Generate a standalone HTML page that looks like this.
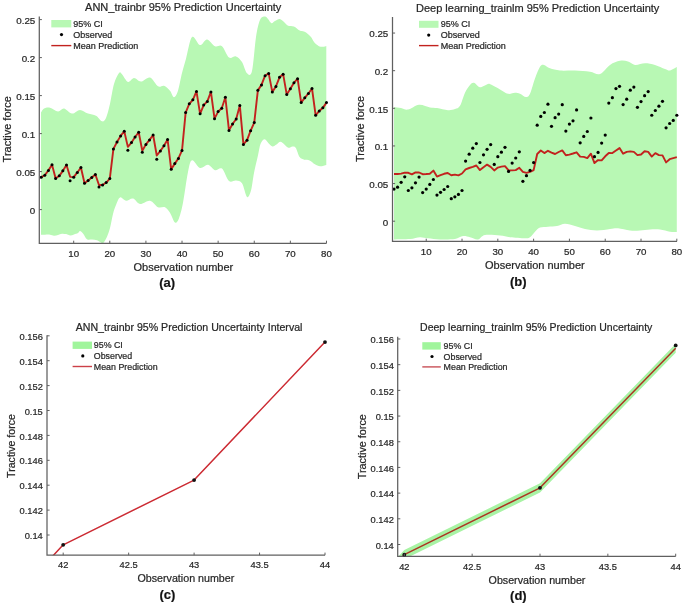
<!DOCTYPE html>
<html><head><meta charset="utf-8"><title>Prediction Uncertainty</title>
<style>html,body{margin:0;padding:0;background:#fff;} body{width:685px;height:604px;overflow:hidden;font-family:"Liberation Sans",sans-serif;} svg{display:block;filter:blur(0.35px);} text{stroke:#2a2a2a;stroke-width:0.22px;}</style>
</head><body>
<svg width="685" height="604" viewBox="0 0 685 604" font-family="Liberation Sans, sans-serif">
<rect width="685" height="604" fill="#fff"/>
<path d="M41.00,112.60 C41.50,111.93 42.50,109.42 44.00,108.60 C45.50,107.78 47.67,107.22 50.00,107.70 C52.33,108.18 55.67,111.35 58.00,111.50 C60.33,111.65 61.67,108.25 64.00,108.60 C66.33,108.95 69.33,113.38 72.00,113.60 C74.67,113.82 77.33,109.90 80.00,109.90 C82.67,109.90 85.33,112.62 88.00,113.60 C90.67,114.58 93.67,114.52 96.00,115.80 C98.33,117.08 100.33,120.93 102.00,121.30 C103.67,121.67 104.67,120.92 106.00,118.00 C107.33,115.08 108.67,109.45 110.00,103.80 C111.33,98.15 112.50,89.22 114.00,84.10 C115.50,78.98 117.67,74.75 119.00,73.10 C120.33,71.45 120.50,72.73 122.00,74.20 C123.50,75.67 126.00,81.27 128.00,81.90 C130.00,82.53 131.83,78.07 134.00,78.00 C136.17,77.93 138.33,81.58 141.00,81.50 C143.67,81.42 147.17,76.70 150.00,77.50 C152.83,78.30 155.67,84.92 158.00,86.30 C160.33,87.68 162.00,85.07 164.00,85.80 C166.00,86.53 168.33,88.80 170.00,90.70 C171.67,92.60 172.67,97.20 174.00,97.20 C175.33,97.20 176.67,94.72 178.00,90.70 C179.33,86.68 180.67,78.43 182.00,73.10 C183.33,67.77 184.33,64.70 186.00,58.70 C187.67,52.70 189.67,39.37 192.00,37.10 C194.33,34.83 197.50,44.72 200.00,45.10 C202.50,45.48 204.50,39.22 207.00,39.40 C209.50,39.58 212.50,45.07 215.00,46.20 C217.50,47.33 219.67,44.32 222.00,46.20 C224.33,48.08 226.67,55.80 229.00,57.50 C231.33,59.20 233.83,55.65 236.00,56.40 C238.17,57.15 240.17,59.18 242.00,62.00 C243.83,64.82 245.33,71.78 247.00,73.30 C248.67,74.82 250.50,77.13 252.00,71.10 C253.50,65.07 254.67,45.62 256.00,37.10 C257.33,28.58 258.52,23.42 260.00,20.00 C261.48,16.58 263.57,16.77 264.90,16.60 C266.23,16.43 266.90,17.90 268.00,19.00 C269.10,20.10 270.33,22.87 271.50,23.20 C272.67,23.53 273.62,21.70 275.00,21.00 C276.38,20.30 278.30,18.83 279.80,19.00 C281.30,19.17 282.62,20.88 284.00,22.00 C285.38,23.12 286.45,24.95 288.10,25.70 C289.75,26.45 291.97,25.68 293.90,26.50 C295.83,27.32 298.02,29.77 299.70,30.60 C301.38,31.43 302.63,30.95 304.00,31.50 C305.37,32.05 306.73,32.98 307.90,33.90 C309.07,34.82 310.03,35.75 311.00,37.00 C311.97,38.25 312.87,40.23 313.70,41.40 C314.53,42.57 315.03,43.17 316.00,44.00 C316.97,44.83 318.33,45.93 319.50,46.40 C320.67,46.87 321.87,46.87 323.00,46.80 C324.13,46.73 325.75,46.13 326.30,46.00 L326.30,165.00 C325.27,165.22 322.00,166.42 320.10,166.30 C318.20,166.18 316.65,165.28 314.90,164.30 C313.15,163.32 311.37,161.17 309.60,160.40 C307.83,159.63 305.97,160.25 304.30,159.70 C302.63,159.15 301.03,159.08 299.60,157.10 C298.17,155.12 296.90,149.57 295.70,147.80 C294.50,146.03 293.62,146.50 292.40,146.50 C291.18,146.50 289.73,148.13 288.40,147.80 C287.07,147.47 285.73,145.50 284.40,144.50 C283.07,143.50 281.72,141.80 280.40,141.80 C279.08,141.80 277.82,143.72 276.50,144.50 C275.18,145.28 273.83,146.72 272.50,146.50 C271.17,146.28 269.82,144.42 268.50,143.20 C267.18,141.98 265.92,139.10 264.60,139.20 C263.28,139.30 261.72,141.05 260.60,143.80 C259.48,146.55 259.00,150.85 257.90,155.70 C256.80,160.55 255.15,167.10 254.00,172.90 C252.85,178.70 252.17,186.50 251.00,190.50 C249.83,194.50 248.50,198.10 247.00,196.90 C245.50,195.70 243.83,186.02 242.00,183.30 C240.17,180.58 238.17,180.97 236.00,180.60 C233.83,180.23 231.33,183.10 229.00,181.10 C226.67,179.10 224.33,170.42 222.00,168.60 C219.67,166.78 217.33,170.83 215.00,170.20 C212.67,169.57 210.50,165.17 208.00,164.80 C205.50,164.43 202.67,168.75 200.00,168.00 C197.33,167.25 194.00,159.63 192.00,160.30 C190.00,160.97 189.50,164.92 188.00,172.00 C186.50,179.08 184.50,195.10 183.00,202.80 C181.50,210.50 180.33,214.90 179.00,218.20 C177.67,221.50 176.50,223.52 175.00,222.60 C173.50,221.68 171.67,215.27 170.00,212.70 C168.33,210.13 167.00,208.12 165.00,207.20 C163.00,206.28 160.50,208.28 158.00,207.20 C155.50,206.12 153.00,201.25 150.00,200.70 C147.00,200.15 142.83,204.27 140.00,203.90 C137.17,203.53 135.33,199.03 133.00,198.50 C130.67,197.97 128.17,200.88 126.00,200.70 C123.83,200.52 121.67,196.68 120.00,197.40 C118.33,198.12 117.17,202.23 116.00,205.00 C114.83,207.77 114.00,210.15 113.00,214.00 C112.00,217.85 111.00,224.32 110.00,228.10 C109.00,231.88 108.17,234.17 107.00,236.70 C105.83,239.23 104.00,242.32 103.00,243.30 C102.00,244.28 102.00,243.10 101.00,242.60 C100.00,242.10 98.50,240.80 97.00,240.30 C95.50,239.80 93.67,239.77 92.00,239.60 C90.33,239.43 88.50,240.33 87.00,239.30 C85.50,238.27 84.17,234.78 83.00,233.40 C81.83,232.02 80.83,231.05 80.00,231.00 C79.17,230.95 79.00,232.53 78.00,233.10 C77.00,233.67 75.33,234.02 74.00,234.40 C72.67,234.78 71.33,235.45 70.00,235.40 C68.67,235.35 67.33,234.38 66.00,234.10 C64.67,233.82 63.33,233.55 62.00,233.70 C60.67,233.85 59.33,234.67 58.00,235.00 C56.67,235.33 55.33,235.75 54.00,235.70 C52.67,235.65 51.50,234.87 50.00,234.70 C48.50,234.53 46.50,234.70 45.00,234.70 C43.50,234.70 41.67,234.70 41.00,234.70 Z" fill="#b8f8b4"/>
<polyline points="41.20,177.15 44.81,175.25 48.42,170.38 52.03,164.84 55.65,178.59 59.26,175.86 62.87,170.84 66.48,165.06 70.09,176.84 73.70,177.15 77.31,172.44 80.92,167.50 84.53,183.23 88.14,180.42 91.75,177.60 95.37,174.56 98.98,184.98 102.59,184.98 106.20,182.54 109.81,178.59 113.42,148.88 117.03,141.96 120.64,135.88 124.25,131.24 127.87,146.90 131.48,142.57 135.09,137.02 138.70,132.23 142.31,150.70 145.92,144.39 149.53,139.91 153.14,135.04 156.75,155.49 160.36,150.93 163.98,145.76 167.59,139.53 171.20,169.32 174.81,163.62 178.42,158.38 182.03,150.40 185.64,112.62 189.25,103.81 192.86,99.86 196.47,91.42 200.09,113.84 203.70,105.10 207.31,101.38 210.92,91.95 214.53,118.63 218.14,111.56 221.75,108.22 225.36,97.27 228.97,130.41 232.58,123.95 236.19,119.01 239.81,105.40 243.42,144.39 247.03,140.14 250.64,130.71 254.25,122.58 257.86,90.36 261.47,84.88 265.08,75.69 268.69,73.41 272.31,91.88 275.92,86.40 279.53,77.28 283.14,74.17 286.75,94.61 290.36,88.76 293.97,82.83 297.58,78.73 301.19,102.59 304.80,97.80 308.42,93.47 312.03,88.53 315.64,115.28 319.25,110.95 322.86,107.84 326.47,102.59" fill="none" stroke="#c2221e" stroke-width="1.9" stroke-linejoin="round"/>
<circle cx="41.20" cy="177.15" r="1.5" fill="#000"/>
<circle cx="44.81" cy="175.25" r="1.5" fill="#000"/>
<circle cx="48.42" cy="170.38" r="1.5" fill="#000"/>
<circle cx="52.03" cy="164.84" r="1.5" fill="#000"/>
<circle cx="55.65" cy="178.59" r="1.5" fill="#000"/>
<circle cx="59.26" cy="175.86" r="1.5" fill="#000"/>
<circle cx="62.87" cy="170.84" r="1.5" fill="#000"/>
<circle cx="66.48" cy="165.06" r="1.5" fill="#000"/>
<circle cx="70.09" cy="180.64" r="1.5" fill="#000"/>
<circle cx="73.70" cy="177.15" r="1.5" fill="#000"/>
<circle cx="77.31" cy="172.44" r="1.5" fill="#000"/>
<circle cx="80.92" cy="167.50" r="1.5" fill="#000"/>
<circle cx="84.53" cy="183.23" r="1.5" fill="#000"/>
<circle cx="88.14" cy="180.42" r="1.5" fill="#000"/>
<circle cx="91.75" cy="177.60" r="1.5" fill="#000"/>
<circle cx="95.37" cy="174.56" r="1.5" fill="#000"/>
<circle cx="98.98" cy="186.88" r="1.5" fill="#000"/>
<circle cx="102.59" cy="184.98" r="1.5" fill="#000"/>
<circle cx="106.20" cy="182.54" r="1.5" fill="#000"/>
<circle cx="109.81" cy="178.59" r="1.5" fill="#000"/>
<circle cx="113.42" cy="148.88" r="1.5" fill="#000"/>
<circle cx="117.03" cy="141.96" r="1.5" fill="#000"/>
<circle cx="120.64" cy="135.88" r="1.5" fill="#000"/>
<circle cx="124.25" cy="131.24" r="1.5" fill="#000"/>
<circle cx="127.87" cy="150.32" r="1.5" fill="#000"/>
<circle cx="131.48" cy="142.57" r="1.5" fill="#000"/>
<circle cx="135.09" cy="137.02" r="1.5" fill="#000"/>
<circle cx="138.70" cy="132.23" r="1.5" fill="#000"/>
<circle cx="142.31" cy="152.22" r="1.5" fill="#000"/>
<circle cx="145.92" cy="144.39" r="1.5" fill="#000"/>
<circle cx="149.53" cy="139.91" r="1.5" fill="#000"/>
<circle cx="153.14" cy="135.04" r="1.5" fill="#000"/>
<circle cx="156.75" cy="159.29" r="1.5" fill="#000"/>
<circle cx="160.36" cy="150.93" r="1.5" fill="#000"/>
<circle cx="163.98" cy="145.76" r="1.5" fill="#000"/>
<circle cx="167.59" cy="139.53" r="1.5" fill="#000"/>
<circle cx="171.20" cy="169.32" r="1.5" fill="#000"/>
<circle cx="174.81" cy="163.62" r="1.5" fill="#000"/>
<circle cx="178.42" cy="158.38" r="1.5" fill="#000"/>
<circle cx="182.03" cy="150.40" r="1.5" fill="#000"/>
<circle cx="185.64" cy="112.62" r="1.5" fill="#000"/>
<circle cx="189.25" cy="103.81" r="1.5" fill="#000"/>
<circle cx="192.86" cy="99.86" r="1.5" fill="#000"/>
<circle cx="196.47" cy="91.42" r="1.5" fill="#000"/>
<circle cx="200.09" cy="113.84" r="1.5" fill="#000"/>
<circle cx="203.70" cy="105.10" r="1.5" fill="#000"/>
<circle cx="207.31" cy="101.38" r="1.5" fill="#000"/>
<circle cx="210.92" cy="91.95" r="1.5" fill="#000"/>
<circle cx="214.53" cy="118.63" r="1.5" fill="#000"/>
<circle cx="218.14" cy="111.56" r="1.5" fill="#000"/>
<circle cx="221.75" cy="108.22" r="1.5" fill="#000"/>
<circle cx="225.36" cy="97.27" r="1.5" fill="#000"/>
<circle cx="228.97" cy="130.41" r="1.5" fill="#000"/>
<circle cx="232.58" cy="123.95" r="1.5" fill="#000"/>
<circle cx="236.19" cy="119.01" r="1.5" fill="#000"/>
<circle cx="239.81" cy="105.40" r="1.5" fill="#000"/>
<circle cx="243.42" cy="144.39" r="1.5" fill="#000"/>
<circle cx="247.03" cy="140.14" r="1.5" fill="#000"/>
<circle cx="250.64" cy="130.71" r="1.5" fill="#000"/>
<circle cx="254.25" cy="122.58" r="1.5" fill="#000"/>
<circle cx="257.86" cy="90.36" r="1.5" fill="#000"/>
<circle cx="261.47" cy="84.88" r="1.5" fill="#000"/>
<circle cx="265.08" cy="75.69" r="1.5" fill="#000"/>
<circle cx="268.69" cy="73.41" r="1.5" fill="#000"/>
<circle cx="272.31" cy="91.88" r="1.5" fill="#000"/>
<circle cx="275.92" cy="86.40" r="1.5" fill="#000"/>
<circle cx="279.53" cy="77.28" r="1.5" fill="#000"/>
<circle cx="283.14" cy="74.17" r="1.5" fill="#000"/>
<circle cx="286.75" cy="94.61" r="1.5" fill="#000"/>
<circle cx="290.36" cy="88.76" r="1.5" fill="#000"/>
<circle cx="293.97" cy="82.83" r="1.5" fill="#000"/>
<circle cx="297.58" cy="78.73" r="1.5" fill="#000"/>
<circle cx="301.19" cy="102.59" r="1.5" fill="#000"/>
<circle cx="304.80" cy="97.80" r="1.5" fill="#000"/>
<circle cx="308.42" cy="93.47" r="1.5" fill="#000"/>
<circle cx="312.03" cy="88.53" r="1.5" fill="#000"/>
<circle cx="315.64" cy="115.28" r="1.5" fill="#000"/>
<circle cx="319.25" cy="110.95" r="1.5" fill="#000"/>
<circle cx="322.86" cy="107.84" r="1.5" fill="#000"/>
<circle cx="326.47" cy="102.59" r="1.5" fill="#000"/>
<path d="M39.3,16.5 V243.3 H326.5" fill="none" stroke="#606060" stroke-width="1.25"/>
<line x1="39.3" y1="209.60" x2="41.9" y2="209.60" stroke="#606060" stroke-width="1"/>
<text x="35.3" y="213.93" font-size="9.8" text-anchor="end" fill="#262626">0</text>
<line x1="39.3" y1="171.60" x2="41.9" y2="171.60" stroke="#606060" stroke-width="1"/>
<text x="35.3" y="175.93" font-size="9.8" text-anchor="end" fill="#262626">0.05</text>
<line x1="39.3" y1="133.60" x2="41.9" y2="133.60" stroke="#606060" stroke-width="1"/>
<text x="35.3" y="137.93" font-size="9.8" text-anchor="end" fill="#262626">0.1</text>
<line x1="39.3" y1="95.60" x2="41.9" y2="95.60" stroke="#606060" stroke-width="1"/>
<text x="35.3" y="99.93" font-size="9.8" text-anchor="end" fill="#262626">0.15</text>
<line x1="39.3" y1="57.60" x2="41.9" y2="57.60" stroke="#606060" stroke-width="1"/>
<text x="35.3" y="61.93" font-size="9.8" text-anchor="end" fill="#262626">0.2</text>
<line x1="39.3" y1="19.60" x2="41.9" y2="19.60" stroke="#606060" stroke-width="1"/>
<text x="35.3" y="23.93" font-size="9.8" text-anchor="end" fill="#262626">0.25</text>
<line x1="73.70" y1="243.3" x2="73.70" y2="240.70000000000002" stroke="#606060" stroke-width="1"/>
<text x="73.70" y="257.00" font-size="9.7" text-anchor="middle" fill="#262626">10</text>
<line x1="109.81" y1="243.3" x2="109.81" y2="240.70000000000002" stroke="#606060" stroke-width="1"/>
<text x="109.81" y="257.00" font-size="9.7" text-anchor="middle" fill="#262626">20</text>
<line x1="145.92" y1="243.3" x2="145.92" y2="240.70000000000002" stroke="#606060" stroke-width="1"/>
<text x="145.92" y="257.00" font-size="9.7" text-anchor="middle" fill="#262626">30</text>
<line x1="182.03" y1="243.3" x2="182.03" y2="240.70000000000002" stroke="#606060" stroke-width="1"/>
<text x="182.03" y="257.00" font-size="9.7" text-anchor="middle" fill="#262626">40</text>
<line x1="218.14" y1="243.3" x2="218.14" y2="240.70000000000002" stroke="#606060" stroke-width="1"/>
<text x="218.14" y="257.00" font-size="9.7" text-anchor="middle" fill="#262626">50</text>
<line x1="254.25" y1="243.3" x2="254.25" y2="240.70000000000002" stroke="#606060" stroke-width="1"/>
<text x="254.25" y="257.00" font-size="9.7" text-anchor="middle" fill="#262626">60</text>
<line x1="290.36" y1="243.3" x2="290.36" y2="240.70000000000002" stroke="#606060" stroke-width="1"/>
<text x="290.36" y="257.00" font-size="9.7" text-anchor="middle" fill="#262626">70</text>
<line x1="326.47" y1="243.3" x2="326.47" y2="240.70000000000002" stroke="#606060" stroke-width="1"/>
<text x="326.47" y="257.00" font-size="9.7" text-anchor="middle" fill="#262626">80</text>
<rect x="51.3" y="20.0" width="20.0" height="7.399999999999999" fill="#b8f8b4"/>
<circle cx="61.5" cy="34.6" r="1.6" fill="#000"/>
<line x1="51.3" y1="45.6" x2="71.3" y2="45.6" stroke="#c2221e" stroke-width="1.4"/>
<text x="73.3" y="26.85" font-size="9" fill="#262626">95% CI</text>
<text x="73.3" y="37.75" font-size="9" fill="#262626">Observed</text>
<text x="73.3" y="48.75" font-size="9" fill="#262626">Mean Prediction</text>
<text x="183.2" y="11.2" font-size="11" text-anchor="middle" fill="#262626">ANN_trainbr 95% Prediction Uncertainty</text>
<text x="183.4" y="271" font-size="11" text-anchor="middle" fill="#262626">Observation number</text>
<text transform="translate(10.8,129.3) rotate(-90)" x="0" y="0" font-size="11" text-anchor="middle" fill="#262626">Tractive force</text>
<text x="167.2" y="287.2" font-size="13" font-weight="bold" text-anchor="middle" fill="#111">(a)</text>
<path d="M394.00,106.90 C395.17,107.08 398.67,107.55 401.00,108.00 C403.33,108.45 405.00,110.15 408.00,109.60 C411.00,109.05 415.33,105.07 419.00,104.70 C422.67,104.33 427.00,106.85 430.00,107.40 C433.00,107.95 434.00,107.53 437.00,108.00 C440.00,108.47 445.00,110.02 448.00,110.20 C451.00,110.38 453.00,109.83 455.00,109.10 C457.00,108.37 458.33,108.53 460.00,105.80 C461.67,103.07 463.33,96.17 465.00,92.70 C466.67,89.23 468.50,86.65 470.00,85.00 C471.50,83.35 472.33,82.43 474.00,82.80 C475.67,83.17 477.67,87.02 480.00,87.20 C482.33,87.38 486.17,84.33 488.00,83.90 C489.83,83.47 489.00,83.68 491.00,84.60 C493.00,85.52 497.17,87.87 500.00,89.40 C502.83,90.93 505.50,93.25 508.00,93.80 C510.50,94.35 513.00,92.70 515.00,92.70 C517.00,92.70 518.17,93.07 520.00,93.80 C521.83,94.53 524.33,97.10 526.00,97.10 C527.67,97.10 528.50,96.90 530.00,93.80 C531.50,90.70 533.33,83.02 535.00,78.50 C536.67,73.98 538.50,68.97 540.00,66.70 C541.50,64.43 542.33,64.63 544.00,64.90 C545.67,65.17 547.33,67.37 550.00,68.30 C552.67,69.23 555.83,70.13 560.00,70.50 C564.17,70.87 570.00,70.30 575.00,70.50 C580.00,70.70 585.83,71.13 590.00,71.70 C594.17,72.27 596.67,75.03 600.00,73.90 C603.33,72.77 606.67,67.08 610.00,64.90 C613.33,62.72 617.00,61.37 620.00,60.80 C623.00,60.23 625.50,60.82 628.00,61.50 C630.50,62.18 632.17,64.60 635.00,64.90 C637.83,65.20 641.67,63.30 645.00,63.30 C648.33,63.30 651.67,63.95 655.00,64.90 C658.33,65.85 662.50,68.07 665.00,69.00 C667.50,69.93 668.03,70.82 670.00,70.50 C671.97,70.18 675.67,67.67 676.80,67.10 L676.80,232.10 C675.67,232.03 672.80,232.15 670.00,231.70 C667.20,231.25 663.33,229.78 660.00,229.40 C656.67,229.02 653.33,229.22 650.00,229.40 C646.67,229.58 643.33,230.32 640.00,230.50 C636.67,230.68 633.67,230.87 630.00,230.50 C626.33,230.13 621.33,228.55 618.00,228.30 C614.67,228.05 613.50,228.63 610.00,229.00 C606.50,229.37 601.17,230.50 597.00,230.50 C592.83,230.50 588.67,229.75 585.00,229.00 C581.33,228.25 578.33,226.87 575.00,226.00 C571.67,225.13 568.00,223.80 565.00,223.80 C562.00,223.80 559.83,225.52 557.00,226.00 C554.17,226.48 550.83,226.43 548.00,226.70 C545.17,226.97 542.17,226.77 540.00,227.60 C537.83,228.43 536.67,230.10 535.00,231.70 C533.33,233.30 531.67,236.10 530.00,237.20 C528.33,238.30 528.33,238.30 525.00,238.30 C521.67,238.30 514.17,237.67 510.00,237.20 C505.83,236.73 504.17,235.87 500.00,235.50 C495.83,235.13 488.67,234.35 485.00,235.00 C481.33,235.65 480.50,239.03 478.00,239.40 C475.50,239.77 472.50,237.75 470.00,237.20 C467.50,236.65 465.50,235.80 463.00,236.10 C460.50,236.40 458.83,238.45 455.00,239.00 C451.17,239.55 444.50,239.52 440.00,239.40 C435.50,239.28 431.33,238.67 428.00,238.30 C424.67,237.93 423.00,237.08 420.00,237.20 C417.00,237.32 414.33,238.63 410.00,239.00 C405.67,239.37 396.67,239.33 394.00,239.40 Z" fill="#b8f8b4"/>
<polyline points="394.00,174.00 397.58,174.00 401.16,173.60 404.74,172.60 408.32,172.80 411.90,174.30 415.48,172.40 419.06,172.50 422.64,174.20 426.22,174.00 429.80,173.70 433.38,170.60 436.96,176.60 440.54,175.10 444.12,173.80 447.70,173.00 451.28,175.30 454.86,174.60 458.44,175.40 462.02,173.50 465.60,169.40 469.18,168.00 472.76,166.90 476.34,165.50 479.92,170.10 483.50,167.20 487.08,164.60 490.66,166.90 494.24,170.40 497.82,167.60 501.40,166.60 504.98,166.10 508.56,170.40 512.14,170.40 515.72,170.10 519.30,167.80 522.88,171.90 526.46,172.90 530.04,171.90 533.62,170.10 537.20,154.00 540.78,150.50 544.36,153.10 547.94,150.80 551.52,152.60 555.10,154.00 558.68,152.00 562.26,150.40 565.84,155.20 569.42,154.60 573.00,153.50 576.58,152.30 580.16,156.60 583.74,156.90 587.32,158.10 590.90,153.70 594.48,163.10 598.06,160.10 601.64,160.40 605.22,156.30 608.80,153.00 612.38,153.10 615.96,150.50 619.54,148.10 623.12,153.70 626.70,151.90 630.28,151.40 633.86,151.90 637.44,155.10 641.02,154.50 644.60,151.30 648.18,151.90 651.76,156.60 655.34,153.10 658.92,155.10 662.50,155.40 666.08,162.40 669.66,159.20 673.24,158.10 676.82,157.20" fill="none" stroke="#c2221e" stroke-width="1.9" stroke-linejoin="round"/>
<circle cx="394.00" cy="189.06" r="1.6" fill="#000"/>
<circle cx="397.58" cy="187.18" r="1.6" fill="#000"/>
<circle cx="401.16" cy="182.37" r="1.6" fill="#000"/>
<circle cx="404.74" cy="176.87" r="1.6" fill="#000"/>
<circle cx="408.32" cy="190.49" r="1.6" fill="#000"/>
<circle cx="411.90" cy="187.78" r="1.6" fill="#000"/>
<circle cx="415.48" cy="182.82" r="1.6" fill="#000"/>
<circle cx="419.06" cy="177.10" r="1.6" fill="#000"/>
<circle cx="422.64" cy="192.53" r="1.6" fill="#000"/>
<circle cx="426.22" cy="189.06" r="1.6" fill="#000"/>
<circle cx="429.80" cy="184.40" r="1.6" fill="#000"/>
<circle cx="433.38" cy="179.51" r="1.6" fill="#000"/>
<circle cx="436.96" cy="195.08" r="1.6" fill="#000"/>
<circle cx="440.54" cy="192.30" r="1.6" fill="#000"/>
<circle cx="444.12" cy="189.52" r="1.6" fill="#000"/>
<circle cx="447.70" cy="186.51" r="1.6" fill="#000"/>
<circle cx="451.28" cy="198.70" r="1.6" fill="#000"/>
<circle cx="454.86" cy="196.82" r="1.6" fill="#000"/>
<circle cx="458.44" cy="194.41" r="1.6" fill="#000"/>
<circle cx="462.02" cy="190.49" r="1.6" fill="#000"/>
<circle cx="465.60" cy="161.07" r="1.6" fill="#000"/>
<circle cx="469.18" cy="154.22" r="1.6" fill="#000"/>
<circle cx="472.76" cy="148.20" r="1.6" fill="#000"/>
<circle cx="476.34" cy="143.61" r="1.6" fill="#000"/>
<circle cx="479.92" cy="162.50" r="1.6" fill="#000"/>
<circle cx="483.50" cy="154.82" r="1.6" fill="#000"/>
<circle cx="487.08" cy="149.33" r="1.6" fill="#000"/>
<circle cx="490.66" cy="144.59" r="1.6" fill="#000"/>
<circle cx="494.24" cy="164.38" r="1.6" fill="#000"/>
<circle cx="497.82" cy="156.63" r="1.6" fill="#000"/>
<circle cx="501.40" cy="152.19" r="1.6" fill="#000"/>
<circle cx="504.98" cy="147.37" r="1.6" fill="#000"/>
<circle cx="508.56" cy="171.38" r="1.6" fill="#000"/>
<circle cx="512.14" cy="163.10" r="1.6" fill="#000"/>
<circle cx="515.72" cy="157.98" r="1.6" fill="#000"/>
<circle cx="519.30" cy="151.81" r="1.6" fill="#000"/>
<circle cx="522.88" cy="181.31" r="1.6" fill="#000"/>
<circle cx="526.46" cy="175.67" r="1.6" fill="#000"/>
<circle cx="530.04" cy="170.47" r="1.6" fill="#000"/>
<circle cx="533.62" cy="162.57" r="1.6" fill="#000"/>
<circle cx="537.20" cy="125.17" r="1.6" fill="#000"/>
<circle cx="540.78" cy="116.44" r="1.6" fill="#000"/>
<circle cx="544.36" cy="112.52" r="1.6" fill="#000"/>
<circle cx="547.94" cy="104.17" r="1.6" fill="#000"/>
<circle cx="551.52" cy="126.37" r="1.6" fill="#000"/>
<circle cx="555.10" cy="117.72" r="1.6" fill="#000"/>
<circle cx="558.68" cy="114.03" r="1.6" fill="#000"/>
<circle cx="562.26" cy="104.70" r="1.6" fill="#000"/>
<circle cx="565.84" cy="131.11" r="1.6" fill="#000"/>
<circle cx="569.42" cy="124.11" r="1.6" fill="#000"/>
<circle cx="573.00" cy="120.80" r="1.6" fill="#000"/>
<circle cx="576.58" cy="109.97" r="1.6" fill="#000"/>
<circle cx="580.16" cy="142.78" r="1.6" fill="#000"/>
<circle cx="583.74" cy="136.38" r="1.6" fill="#000"/>
<circle cx="587.32" cy="131.49" r="1.6" fill="#000"/>
<circle cx="590.90" cy="118.02" r="1.6" fill="#000"/>
<circle cx="594.48" cy="156.63" r="1.6" fill="#000"/>
<circle cx="598.06" cy="152.41" r="1.6" fill="#000"/>
<circle cx="601.64" cy="143.08" r="1.6" fill="#000"/>
<circle cx="605.22" cy="135.03" r="1.6" fill="#000"/>
<circle cx="608.80" cy="103.12" r="1.6" fill="#000"/>
<circle cx="612.38" cy="97.70" r="1.6" fill="#000"/>
<circle cx="615.96" cy="88.59" r="1.6" fill="#000"/>
<circle cx="619.54" cy="86.33" r="1.6" fill="#000"/>
<circle cx="623.12" cy="104.62" r="1.6" fill="#000"/>
<circle cx="626.70" cy="99.20" r="1.6" fill="#000"/>
<circle cx="630.28" cy="90.17" r="1.6" fill="#000"/>
<circle cx="633.86" cy="87.09" r="1.6" fill="#000"/>
<circle cx="637.44" cy="107.33" r="1.6" fill="#000"/>
<circle cx="641.02" cy="101.54" r="1.6" fill="#000"/>
<circle cx="644.60" cy="95.67" r="1.6" fill="#000"/>
<circle cx="648.18" cy="91.60" r="1.6" fill="#000"/>
<circle cx="651.76" cy="115.23" r="1.6" fill="#000"/>
<circle cx="655.34" cy="110.49" r="1.6" fill="#000"/>
<circle cx="658.92" cy="106.20" r="1.6" fill="#000"/>
<circle cx="662.50" cy="101.31" r="1.6" fill="#000"/>
<circle cx="666.08" cy="127.80" r="1.6" fill="#000"/>
<circle cx="669.66" cy="123.51" r="1.6" fill="#000"/>
<circle cx="673.24" cy="120.43" r="1.6" fill="#000"/>
<circle cx="676.82" cy="115.23" r="1.6" fill="#000"/>
<path d="M392.5,16.9 V241.3 H677" fill="none" stroke="#606060" stroke-width="1.25"/>
<line x1="392.5" y1="221.20" x2="395.1" y2="221.20" stroke="#606060" stroke-width="1"/>
<text x="388.3" y="225.53" font-size="9.8" text-anchor="end" fill="#262626">0</text>
<line x1="392.5" y1="183.57" x2="395.1" y2="183.57" stroke="#606060" stroke-width="1"/>
<text x="388.3" y="187.90" font-size="9.8" text-anchor="end" fill="#262626">0.05</text>
<line x1="392.5" y1="145.94" x2="395.1" y2="145.94" stroke="#606060" stroke-width="1"/>
<text x="388.3" y="150.27" font-size="9.8" text-anchor="end" fill="#262626">0.1</text>
<line x1="392.5" y1="108.31" x2="395.1" y2="108.31" stroke="#606060" stroke-width="1"/>
<text x="388.3" y="112.64" font-size="9.8" text-anchor="end" fill="#262626">0.15</text>
<line x1="392.5" y1="70.68" x2="395.1" y2="70.68" stroke="#606060" stroke-width="1"/>
<text x="388.3" y="75.01" font-size="9.8" text-anchor="end" fill="#262626">0.2</text>
<line x1="392.5" y1="33.05" x2="395.1" y2="33.05" stroke="#606060" stroke-width="1"/>
<text x="388.3" y="37.38" font-size="9.8" text-anchor="end" fill="#262626">0.25</text>
<line x1="426.22" y1="241.3" x2="426.22" y2="238.70000000000002" stroke="#606060" stroke-width="1"/>
<text x="426.22" y="255.40" font-size="9.7" text-anchor="middle" fill="#262626">10</text>
<line x1="462.02" y1="241.3" x2="462.02" y2="238.70000000000002" stroke="#606060" stroke-width="1"/>
<text x="462.02" y="255.40" font-size="9.7" text-anchor="middle" fill="#262626">20</text>
<line x1="497.82" y1="241.3" x2="497.82" y2="238.70000000000002" stroke="#606060" stroke-width="1"/>
<text x="497.82" y="255.40" font-size="9.7" text-anchor="middle" fill="#262626">30</text>
<line x1="533.62" y1="241.3" x2="533.62" y2="238.70000000000002" stroke="#606060" stroke-width="1"/>
<text x="533.62" y="255.40" font-size="9.7" text-anchor="middle" fill="#262626">40</text>
<line x1="569.42" y1="241.3" x2="569.42" y2="238.70000000000002" stroke="#606060" stroke-width="1"/>
<text x="569.42" y="255.40" font-size="9.7" text-anchor="middle" fill="#262626">50</text>
<line x1="605.22" y1="241.3" x2="605.22" y2="238.70000000000002" stroke="#606060" stroke-width="1"/>
<text x="605.22" y="255.40" font-size="9.7" text-anchor="middle" fill="#262626">60</text>
<line x1="641.02" y1="241.3" x2="641.02" y2="238.70000000000002" stroke="#606060" stroke-width="1"/>
<text x="641.02" y="255.40" font-size="9.7" text-anchor="middle" fill="#262626">70</text>
<line x1="676.82" y1="241.3" x2="676.82" y2="238.70000000000002" stroke="#606060" stroke-width="1"/>
<text x="676.82" y="255.40" font-size="9.7" text-anchor="middle" fill="#262626">80</text>
<rect x="419" y="20.8" width="19.5" height="7.0" fill="#b8f8b4"/>
<circle cx="428.7" cy="35.1" r="1.6" fill="#000"/>
<line x1="419" y1="45.6" x2="438.5" y2="45.6" stroke="#c2221e" stroke-width="1.4"/>
<text x="440.7" y="27.45" font-size="9" fill="#262626">95% CI</text>
<text x="440.7" y="38.25" font-size="9" fill="#262626">Observed</text>
<text x="440.7" y="48.75" font-size="9" fill="#262626">Mean Prediction</text>
<text x="537.7" y="12.3" font-size="11" text-anchor="middle" fill="#262626">Deep learning_trainlm 95% Prediction Uncertainty</text>
<text x="534.9" y="269" font-size="11" text-anchor="middle" fill="#262626">Observation number</text>
<text transform="translate(364,129) rotate(-90)" x="0" y="0" font-size="11" text-anchor="middle" fill="#262626">Tractive force</text>
<text x="518.2" y="285.7" font-size="13" font-weight="bold" text-anchor="middle" fill="#111">(b)</text>
<clipPath id="cclip"><rect x="47" y="330" width="290" height="225.2"/></clipPath>
<polyline clip-path="url(#cclip)" points="-67.70,685.64 63.20,544.84 194.10,480.10 325.00,342.03" fill="none" stroke="#cc2b33" stroke-width="1.5" stroke-linejoin="round"/>
<path d="M47,335.3 V555.2 H325" fill="none" stroke="#606060" stroke-width="1.25"/>
<circle cx="63.20" cy="544.84" r="1.9" fill="#111"/>
<circle cx="194.10" cy="480.10" r="1.9" fill="#111"/>
<circle cx="325.00" cy="342.03" r="1.9" fill="#111"/>
<line x1="47" y1="535.00" x2="49.6" y2="535.00" stroke="#606060" stroke-width="1"/>
<text x="42.8" y="539.15" font-size="9.3" text-anchor="end" fill="#262626">0.14</text>
<line x1="47" y1="510.10" x2="49.6" y2="510.10" stroke="#606060" stroke-width="1"/>
<text x="42.8" y="514.26" font-size="9.3" text-anchor="end" fill="#262626">0.142</text>
<line x1="47" y1="485.20" x2="49.6" y2="485.20" stroke="#606060" stroke-width="1"/>
<text x="42.8" y="489.36" font-size="9.3" text-anchor="end" fill="#262626">0.144</text>
<line x1="47" y1="460.30" x2="49.6" y2="460.30" stroke="#606060" stroke-width="1"/>
<text x="42.8" y="464.46" font-size="9.3" text-anchor="end" fill="#262626">0.146</text>
<line x1="47" y1="435.40" x2="49.6" y2="435.40" stroke="#606060" stroke-width="1"/>
<text x="42.8" y="439.56" font-size="9.3" text-anchor="end" fill="#262626">0.148</text>
<line x1="47" y1="410.50" x2="49.6" y2="410.50" stroke="#606060" stroke-width="1"/>
<text x="42.8" y="414.66" font-size="9.3" text-anchor="end" fill="#262626">0.15</text>
<line x1="47" y1="385.60" x2="49.6" y2="385.60" stroke="#606060" stroke-width="1"/>
<text x="42.8" y="389.76" font-size="9.3" text-anchor="end" fill="#262626">0.152</text>
<line x1="47" y1="360.70" x2="49.6" y2="360.70" stroke="#606060" stroke-width="1"/>
<text x="42.8" y="364.86" font-size="9.3" text-anchor="end" fill="#262626">0.154</text>
<line x1="47" y1="335.80" x2="49.6" y2="335.80" stroke="#606060" stroke-width="1"/>
<text x="42.8" y="339.96" font-size="9.3" text-anchor="end" fill="#262626">0.156</text>
<line x1="63.20" y1="555.2" x2="63.20" y2="552.6" stroke="#606060" stroke-width="1"/>
<text x="63.20" y="568.25" font-size="9.3" text-anchor="middle" fill="#262626">42</text>
<line x1="128.65" y1="555.2" x2="128.65" y2="552.6" stroke="#606060" stroke-width="1"/>
<text x="128.65" y="568.25" font-size="9.3" text-anchor="middle" fill="#262626">42.5</text>
<line x1="194.10" y1="555.2" x2="194.10" y2="552.6" stroke="#606060" stroke-width="1"/>
<text x="194.10" y="568.25" font-size="9.3" text-anchor="middle" fill="#262626">43</text>
<line x1="259.55" y1="555.2" x2="259.55" y2="552.6" stroke="#606060" stroke-width="1"/>
<text x="259.55" y="568.25" font-size="9.3" text-anchor="middle" fill="#262626">43.5</text>
<line x1="325.00" y1="555.2" x2="325.00" y2="552.6" stroke="#606060" stroke-width="1"/>
<text x="325.00" y="568.25" font-size="9.3" text-anchor="middle" fill="#262626">44</text>
<rect x="72.6" y="341.6" width="19.400000000000006" height="7.2999999999999545" fill="#a0f59c"/>
<circle cx="82.8" cy="355.9" r="1.6" fill="#000"/>
<line x1="72.6" y1="366.5" x2="92" y2="366.5" stroke="#cc4048" stroke-width="1.4"/>
<text x="93.8" y="348.40" font-size="8.85" fill="#262626">95% CI</text>
<text x="93.8" y="359.00" font-size="8.85" fill="#262626">Observed</text>
<text x="93.8" y="369.60" font-size="8.85" fill="#262626">Mean Prediction</text>
<text x="189.1" y="330.6" font-size="10.6" text-anchor="middle" fill="#262626">ANN_trainbr 95% Prediction Uncertainty Interval</text>
<text x="185.9" y="582" font-size="10.7" text-anchor="middle" fill="#262626">Observation number</text>
<text transform="translate(14.9,446) rotate(-90)" x="0" y="0" font-size="10.6" text-anchor="middle" fill="#262626">Tractive force</text>
<text x="167.4" y="598.6" font-size="13" font-weight="bold" text-anchor="middle" fill="#111">(c)</text>
<clipPath id="dclip"><rect x="397.7" y="330" width="290" height="226.3"/></clipPath>
<polygon clip-path="url(#dclip)" points="268.60,695.32 404.30,550.05 540.00,483.25 675.70,343.63 675.70,352.83 540.00,492.45 404.30,559.25 268.60,704.52" fill="#a8f3a4"/>
<polyline clip-path="url(#dclip)" points="268.60,699.92 404.30,554.65 540.00,487.85 675.70,348.23" fill="none" stroke="#ac3522" stroke-width="1.5" stroke-linejoin="round"/>
<path d="M397.7,336.8 V556.3 H675.7" fill="none" stroke="#606060" stroke-width="1.25"/>
<circle cx="404.30" cy="554.65" r="1.9" fill="#111"/>
<circle cx="540.00" cy="487.85" r="1.9" fill="#111"/>
<circle cx="675.70" cy="345.40" r="1.9" fill="#111"/>
<line x1="397.7" y1="544.50" x2="400.3" y2="544.50" stroke="#606060" stroke-width="1"/>
<text x="393.8" y="548.65" font-size="9.3" text-anchor="end" fill="#262626">0.14</text>
<line x1="397.7" y1="518.81" x2="400.3" y2="518.81" stroke="#606060" stroke-width="1"/>
<text x="393.8" y="522.97" font-size="9.3" text-anchor="end" fill="#262626">0.142</text>
<line x1="397.7" y1="493.12" x2="400.3" y2="493.12" stroke="#606060" stroke-width="1"/>
<text x="393.8" y="497.28" font-size="9.3" text-anchor="end" fill="#262626">0.144</text>
<line x1="397.7" y1="467.43" x2="400.3" y2="467.43" stroke="#606060" stroke-width="1"/>
<text x="393.8" y="471.59" font-size="9.3" text-anchor="end" fill="#262626">0.146</text>
<line x1="397.7" y1="441.74" x2="400.3" y2="441.74" stroke="#606060" stroke-width="1"/>
<text x="393.8" y="445.90" font-size="9.3" text-anchor="end" fill="#262626">0.148</text>
<line x1="397.7" y1="416.05" x2="400.3" y2="416.05" stroke="#606060" stroke-width="1"/>
<text x="393.8" y="420.21" font-size="9.3" text-anchor="end" fill="#262626">0.15</text>
<line x1="397.7" y1="390.36" x2="400.3" y2="390.36" stroke="#606060" stroke-width="1"/>
<text x="393.8" y="394.52" font-size="9.3" text-anchor="end" fill="#262626">0.152</text>
<line x1="397.7" y1="364.67" x2="400.3" y2="364.67" stroke="#606060" stroke-width="1"/>
<text x="393.8" y="368.83" font-size="9.3" text-anchor="end" fill="#262626">0.154</text>
<line x1="397.7" y1="338.98" x2="400.3" y2="338.98" stroke="#606060" stroke-width="1"/>
<text x="393.8" y="343.14" font-size="9.3" text-anchor="end" fill="#262626">0.156</text>
<line x1="404.30" y1="556.3" x2="404.30" y2="553.6999999999999" stroke="#606060" stroke-width="1"/>
<text x="404.30" y="569.75" font-size="9.3" text-anchor="middle" fill="#262626">42</text>
<line x1="472.15" y1="556.3" x2="472.15" y2="553.6999999999999" stroke="#606060" stroke-width="1"/>
<text x="472.15" y="569.75" font-size="9.3" text-anchor="middle" fill="#262626">42.5</text>
<line x1="540.00" y1="556.3" x2="540.00" y2="553.6999999999999" stroke="#606060" stroke-width="1"/>
<text x="540.00" y="569.75" font-size="9.3" text-anchor="middle" fill="#262626">43</text>
<line x1="607.85" y1="556.3" x2="607.85" y2="553.6999999999999" stroke="#606060" stroke-width="1"/>
<text x="607.85" y="569.75" font-size="9.3" text-anchor="middle" fill="#262626">43.5</text>
<line x1="675.70" y1="556.3" x2="675.70" y2="553.6999999999999" stroke="#606060" stroke-width="1"/>
<text x="675.70" y="569.75" font-size="9.3" text-anchor="middle" fill="#262626">44</text>
<rect x="422.3" y="342.2" width="18.5" height="7.400000000000034" fill="#a0f59c"/>
<circle cx="432" cy="356.5" r="1.6" fill="#000"/>
<line x1="422.3" y1="366.9" x2="440.8" y2="366.9" stroke="#c85058" stroke-width="1.4"/>
<text x="443.6" y="349.00" font-size="8.85" fill="#262626">95% CI</text>
<text x="443.6" y="359.60" font-size="8.85" fill="#262626">Observed</text>
<text x="443.6" y="370.00" font-size="8.85" fill="#262626">Mean Prediction</text>
<text x="536.2" y="331.2" font-size="10.5" text-anchor="middle" fill="#262626">Deep learning_trainlm 95% Prediction Uncertainty</text>
<text x="537" y="583.6" font-size="10.7" text-anchor="middle" fill="#262626">Observation number</text>
<text transform="translate(365.9,446.7) rotate(-90)" x="0" y="0" font-size="10.8" text-anchor="middle" fill="#262626">Tractive force</text>
<text x="518.4" y="600" font-size="13" font-weight="bold" text-anchor="middle" fill="#111">(d)</text>
</svg>
</body></html>
